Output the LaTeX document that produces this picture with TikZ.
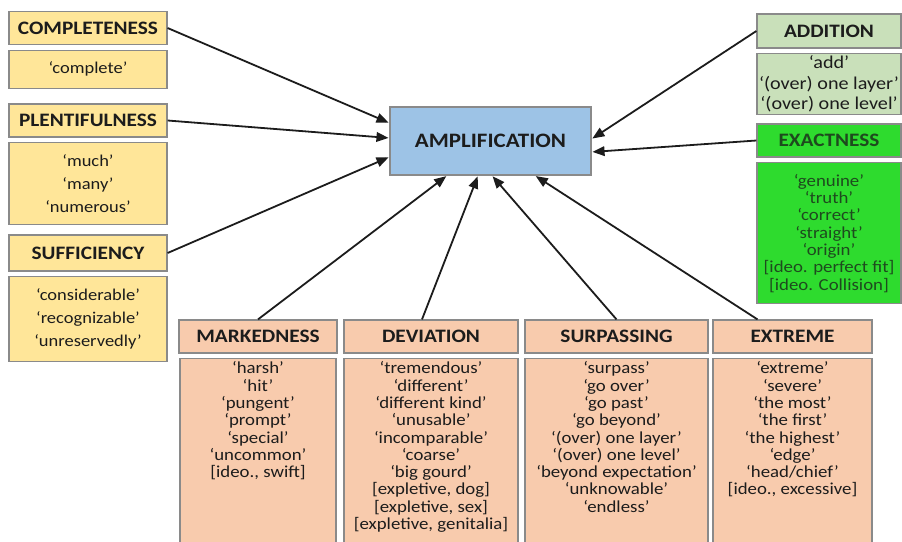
\documentclass[tikz,border=0pt]{standalone}
\usepackage{fontspec}
\setmainfont{Carlito}[FakeStretch=1.12]
\usetikzlibrary{arrows,positioning}

\definecolor{inkblack}{HTML}{1C1C1C}
\definecolor{edgegray}{HTML}{8A8A8A}
\definecolor{sandyellow}{HTML}{FFE699}
\definecolor{sagegreen}{HTML}{C9E0BA}
\definecolor{brightgreen}{HTML}{2EDB2E}
\definecolor{deepgreen}{HTML}{1E4A1E}
\definecolor{salmon}{HTML}{F8CBAD}
\definecolor{skyblue}{HTML}{9DC3E6}

\newcommand{\topwords}[2]{\parbox[t][186pt][t]{#1}{\centering #2}}

\tikzstyle{heading}=[
	rectangle,
	draw=edgegray,
	line width=1.2pt,
	inner sep=0pt,
	text=inkblack,
	font=\fontsize{19}{22}\selectfont\bfseries
]
\tikzstyle{wordlist}=[
	rectangle,
	draw=edgegray,
	line width=1.2pt,
	inner sep=0pt,
	align=center,
	text=inkblack,
	font=\fontsize{16.8}{17.3}\selectfont
]
\tikzstyle{amplifies}=[
	->,
	shorten >=1pt,
	>=triangle 45,
	line width=1.8pt,
	inkblack
]

\begin{document}
\begin{tikzpicture}[x=1pt,y=-1pt,node distance=4.5pt]
\useasboundingbox (0,0) rectangle (902,541);
% centre
\node [heading, fill=skyblue, minimum width=201pt, minimum height=68pt, font=\fontsize{20.5}{24}\selectfont\bfseries] (Amplification) at (490.5,141) {AMPLIFICATION};
% left column
\node [heading, fill=sandyellow, minimum width=158pt, minimum height=33pt] (Completeness) at (88,28) {COMPLETENESS};
\node [wordlist, fill=sandyellow, minimum width=158pt, minimum height=38pt, below=of Completeness, font=\fontsize{16.5}{23}\selectfont] (CompletenessWords) {‘complete’};
\node [heading, fill=sandyellow, minimum width=158pt, minimum height=33pt] (Plentifulness) at (88,120.5) {PLENTIFULNESS};
\node [wordlist, fill=sandyellow, minimum width=158pt, minimum height=82pt, below=of Plentifulness, font=\fontsize{16.5}{23}\selectfont] (PlentifulnessWords) {‘much’\\‘many’\\‘numerous’};
\node [heading, fill=sandyellow, minimum width=158pt, minimum height=36pt] (Sufficiency) at (88,253) {SUFFICIENCY};
\node [wordlist, fill=sandyellow, minimum width=158pt, minimum height=85pt, below=of Sufficiency, font=\fontsize{16.5}{23}\selectfont] (SufficiencyWords) {‘considerable’\\‘recognizable’\\‘unreservedly’};
% right column
\node [heading, fill=sagegreen, minimum width=144pt, minimum height=34pt] (Addition) at (829,31) {ADDITION};
\node [wordlist, fill=sagegreen, minimum width=144pt, minimum height=61pt, below=of Addition, font=\fontsize{18}{20.5}\selectfont] (AdditionWords) {‘add’\\‘(over) one layer’\\‘(over) one level’};
\node [heading, fill=brightgreen, minimum width=144pt, minimum height=33pt, text=deepgreen] (Exactness) at (829,140.5) {EXACTNESS};
\node [wordlist, fill=brightgreen, minimum width=144pt, minimum height=141pt, below=of Exactness, text=deepgreen] (ExactnessWords) {‘genuine’\\‘truth’\\‘correct’\\‘straight’\\‘origin’\\{}[ideo. perfect fit]\\{}[ideo. Collision]};
% bottom row
\node [heading, fill=salmon, minimum width=158pt, minimum height=33pt] (Markedness) at (258,336.5) {MARKEDNESS};
\node [wordlist, fill=salmon, minimum width=156pt, inner ysep=3pt, below=of Markedness] (MarkednessWords) {\topwords{150pt}{‘harsh’\\‘hit’\\‘pungent’\\‘prompt’\\‘special’\\‘uncommon’\\{}[ideo., swift]}};
\node [heading, fill=salmon, minimum width=174pt, minimum height=33pt] (Deviation) at (431,336.5) {DEVIATION};
\node [wordlist, fill=salmon, minimum width=174pt, inner ysep=3pt, below=of Deviation] (DeviationWords) {\topwords{170pt}{‘tremendous’\\‘different’\\‘different kind’\\‘unusable’\\‘incomparable’\\‘coarse’\\‘big gourd’\\{}[expletive, dog]\\{}[expletive, sex]\\{}[expletive, genitalia]}};
\node [heading, fill=salmon, minimum width=183pt, minimum height=33pt] (Surpassing) at (616.5,336.5) {SURPASSING};
\node [wordlist, fill=salmon, minimum width=183pt, inner ysep=3pt, below=of Surpassing] (SurpassingWords) {\topwords{178pt}{‘surpass’\\‘go over’\\‘go past’\\‘go beyond’\\‘(over) one layer’\\‘(over) one level’\\‘beyond expectation’\\‘unknowable’\\‘endless’}};
\node [heading, fill=salmon, minimum width=159pt, minimum height=33pt] (Extreme) at (792.5,336.5) {EXTREME};
\node [wordlist, fill=salmon, minimum width=159pt, inner ysep=3pt, below=of Extreme] (ExtremeWords) {\topwords{155pt}{‘extreme’\\‘severe’\\‘the most’\\‘the first’\\‘the highest’\\‘edge’\\‘head/chief’\\{}[ideo., excessive]}};
% arrows into the centre
\draw [amplifies] (Completeness.east) -- ([yshift=18pt]Amplification.west);
\draw [amplifies] (Plentifulness.east) -- ([yshift=3pt]Amplification.west);
\draw [amplifies] (Sufficiency.east) -- ([yshift=-16pt]Amplification.west);
\draw [amplifies] (Markedness.north) -- ([xshift=-43.5pt]Amplification.south);
\draw [amplifies] ([xshift=-9pt]Deviation.north) -- ([xshift=-12.5pt]Amplification.south);
\draw [amplifies] (Surpassing.north) -- ([xshift=1.5pt]Amplification.south);
\draw [amplifies] ([xshift=-35pt]Extreme.north) -- ([xshift=44.5pt]Amplification.south);
\draw [amplifies] (Addition.west) -- ([yshift=2pt]Amplification.east);
\draw [amplifies] (Exactness.west) -- ([yshift=-11pt]Amplification.east);
\end{tikzpicture}
\end{document}
